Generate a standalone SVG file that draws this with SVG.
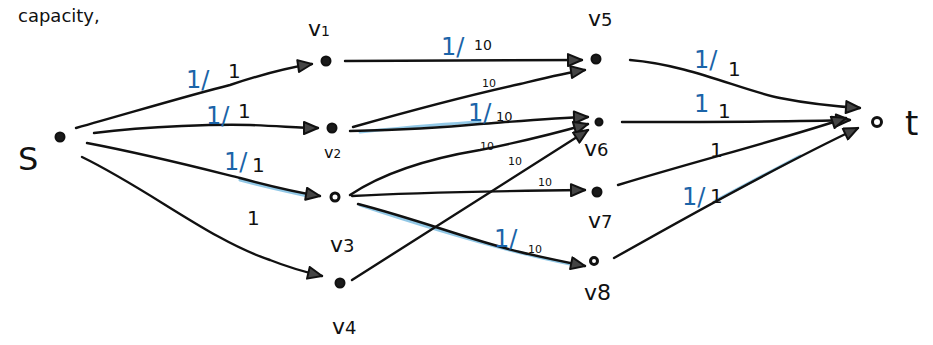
<svg xmlns="http://www.w3.org/2000/svg" width="933" height="345" viewBox="0 0 933 345">
<defs>
<style>
.e{fill:none;stroke:#111;stroke-width:2.4;stroke-linecap:round}
.hl{fill:none;stroke:#4aa3d6;stroke-width:3;stroke-linecap:round;opacity:0.6}
.lab{font-family:"DejaVu Sans","Liberation Sans",sans-serif;fill:#111}
.nl{font-size:22px}
.b{fill:#1b64a8;font-size:24px;font-family:"DejaVu Sans","Liberation Sans",sans-serif}
.k{fill:#111;font-size:20px;font-family:"DejaVu Sans","Liberation Sans",sans-serif}
.c{fill:#111;font-size:11px;font-family:"DejaVu Sans","Liberation Sans",sans-serif}
.dot{fill:#1a1a1a;stroke:#111;stroke-width:2}
.odot{fill:#fff;stroke:#111;stroke-width:3}
</style>
<marker id="ah" markerUnits="userSpaceOnUse" markerWidth="18" markerHeight="14" refX="16" refY="7" orient="auto">
<path d="M2,1 L16,7 L2,13 Z" fill="#444" stroke="#111" stroke-width="2" stroke-linejoin="round"/>
</marker>
</defs>
<rect width="933" height="345" fill="#fff"/>
<text class="lab" x="18" y="22" style="font-size:18px">capacity,</text>

<g id="connectors">
<path class="hl" d="M240,180 C270,188 295,193 312,197"/>
<path class="hl" d="M360,205 C420,225 500,250 570,264"/>
<path class="hl" d="M360,132 C400,128 440,124 480,122"/>
<path class="hl" d="M715,201 L800,156"/>
<path class="e" marker-end="url(#ah)" d="M76,128 C140,110 190,95 230,85 C260,75 285,68 312,64"/>
<path class="e" marker-end="url(#ah)" d="M94,133 C150,126 220,124 250,125 C280,126 300,128 318,128"/>
<path class="e" marker-end="url(#ah)" d="M87,143 C150,155 200,168 240,178 C270,186 295,192 320,196"/>
<path class="e" marker-end="url(#ah)" d="M82,157 C150,190 210,240 270,260 C290,268 305,272 322,276"/>
<path class="e" marker-end="url(#ah)" d="M345,61 L582,60"/>
<path class="e" marker-end="url(#ah)" d="M353,127 C420,108 470,95 520,84 C545,78 565,73 585,70"/>
<path class="e" marker-end="url(#ah)" d="M350,131 C400,130 440,128 480,124 C520,121 555,118 588,117"/>
<path class="e" marker-end="url(#ah)" d="M350,195 C380,175 420,160 480,150 C530,140 560,132 588,124"/>
<path class="e" marker-end="url(#ah)" d="M352,280 L588,130"/>
<path class="e" marker-end="url(#ah)" d="M352,196 C420,192 500,191 585,190"/>
<path class="e" marker-end="url(#ah)" d="M358,204 C420,220 470,240 520,252 C545,258 565,262 585,266"/>
<path class="e" marker-end="url(#ah)" d="M630,60 C690,65 740,90 780,98 C810,104 830,106 860,108"/>
<path class="e" marker-end="url(#ah)" d="M622,122 C700,122 780,122 850,120"/>
<path class="e" marker-end="url(#ah)" d="M618,185 C700,160 780,140 846,118"/>
<path class="e" marker-end="url(#ah)" d="M614,258 C690,215 780,165 858,128"/>
</g>

<g id="edge-labels">
<text class="b" x="186" y="88">1/</text><text class="k" x="228" y="78">1</text>
<text class="b" x="206" y="124">1/</text><text class="k" x="238" y="118">1</text>
<text class="b" x="224" y="170">1/</text><text class="k" x="252" y="172">1</text>
<text class="k" x="247" y="225">1</text>
<text class="b" x="441" y="55">1/</text><text class="k" x="474" y="50" style="font-size:14px">10</text>
<text class="c" x="482" y="87">10</text>
<text class="b" x="468" y="121">1/</text><text class="k" x="496" y="121" style="font-size:13px">10</text>
<text class="c" x="480" y="150">10</text>
<text class="c" x="508" y="165">10</text>
<text class="c" x="538" y="186">10</text>
<text class="b" x="494" y="247">1/</text><text class="c" x="528" y="253">10</text>
<text class="b" x="694" y="68">1/</text><text class="k" x="728" y="76">1</text>
<text class="b" x="694" y="112">1</text><text class="k" x="718" y="118">1</text>
<text class="k" x="710" y="157">1</text>
<text class="b" x="682" y="205">1/</text><text class="k" x="710" y="203">1</text>
</g>

<g id="node-s"><circle class="dot" cx="60" cy="137" r="4.5"/><text class="lab" x="18" y="170" style="font-size:32px">S</text></g>
<g id="node-v1"><circle class="dot" cx="326" cy="61" r="4.5"/><text class="lab nl" x="308" y="36">v<tspan style="font-size:14px">1</tspan></text></g>
<g id="node-v2"><circle class="dot" cx="332" cy="128" r="4.5"/><text class="lab" x="324" y="158" style="font-size:16px">v<tspan style="font-size:12px">2</tspan></text></g>
<g id="node-v3"><circle class="odot" cx="335" cy="197" r="4"/><text class="lab nl" x="330" y="252">v<tspan style="font-size:18px">3</tspan></text></g>
<g id="node-v4"><circle class="dot" cx="340" cy="283" r="4.5"/><text class="lab nl" x="332" y="334">v<tspan style="font-size:18px">4</tspan></text></g>
<g id="node-v5"><circle class="dot" cx="596" cy="59" r="4.5"/><text class="lab nl" x="588" y="26">v<tspan style="font-size:18px">5</tspan></text></g>
<g id="node-v6"><circle class="dot" cx="599" cy="122" r="3.5"/><text class="lab nl" x="584" y="156">v<tspan style="font-size:18px">6</tspan></text></g>
<g id="node-v7"><circle class="dot" cx="597" cy="192" r="4.5"/><text class="lab nl" x="588" y="228">v<tspan style="font-size:18px">7</tspan></text></g>
<g id="node-v8"><circle class="odot" cx="594" cy="261" r="3.5"/><text class="lab nl" x="584" y="300">v<tspan style="font-size:22px">8</tspan></text></g>
<g id="node-t"><circle class="odot" cx="877" cy="122" r="4.5"/><text class="lab" x="905" y="135" style="font-size:34px">t</text></g>
</svg>
